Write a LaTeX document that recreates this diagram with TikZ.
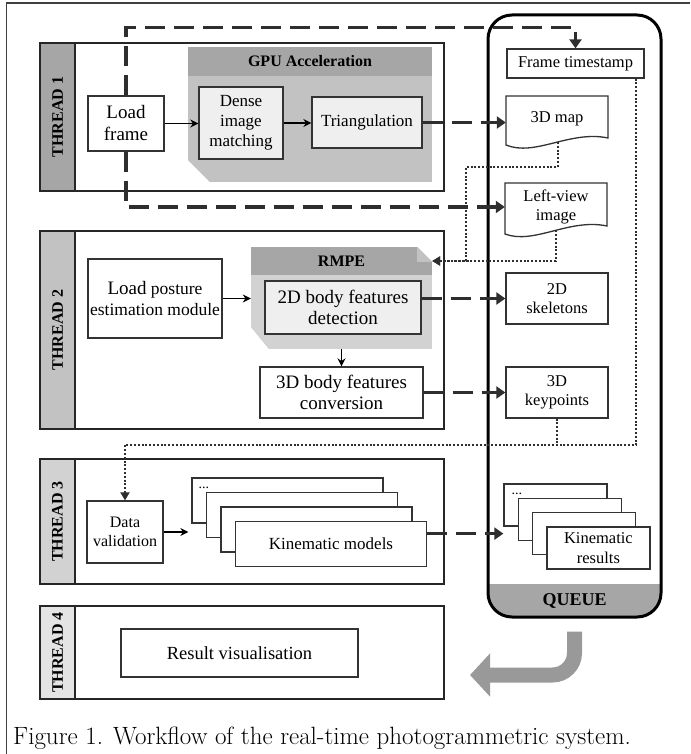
\documentclass[tikz,border=0pt]{standalone}
\usepackage{fontspec}
\newfontfamily\timesfont{Liberation Serif}
\usetikzlibrary{arrows.meta,positioning,calc}

\definecolor{headgray}{HTML}{A6A6A6}
\definecolor{gpugray}{HTML}{C2C2C2}
\definecolor{rmpegray}{HTML}{D2D2D2}
\definecolor{boxgray}{HTML}{EFEFEF}
\definecolor{stripone}{HTML}{A6A6A6}
\definecolor{striptwo}{HTML}{C2C2C2}
\definecolor{stripthree}{HTML}{D2D2D2}
\definecolor{stripfour}{HTML}{E4E4E4}
\definecolor{linkgray}{HTML}{2E2E2E}

\begin{document}
\begin{tikzpicture}[x=1pt,y=-1pt,font=\timesfont\fontsize{17}{20}\selectfont,
thread/.style={draw=black!85, line width=2pt},
threadlabel/.style={rotate=90, inner sep=0pt, font=\timesfont\bfseries\fontsize{16}{18}\selectfont},
taskbox/.style={draw=black!80, line width=1.3pt, fill=white, align=center, inner sep=2pt},
innerbox/.style={taskbox, fill=boxgray},
qbox/.style={taskbox, font=\timesfont\fontsize{16.5}{19.5}\selectfont},
qtext/.style={align=center, inner sep=2pt, font=\timesfont\fontsize{16.5}{19.5}\selectfont},
areabody/.style={fill=#1, inner sep=0pt},
areahead/.style={fill=headgray, inner sep=0pt, font=\timesfont\bfseries\fontsize{16}{18}\selectfont},
flow/.style={draw=black, line width=1.5pt, -{Stealth[length=8pt,width=8pt]}},
dataflow/.style={draw=linkgray, line width=3.2pt, dash pattern=on 20pt off 9pt, -{Triangle[length=9pt,width=12pt]}},
dotline/.style={draw=linkgray, line width=2.2pt, dash pattern=on 2pt off 1.8pt},
dottip/.style={-{Triangle[length=8pt,width=9pt]}},
backarrow/.style={draw=gray!80!white, line width=15pt, rounded corners=22pt, -{Triangle[length=20pt,width=42pt]}}]

\useasboundingbox (0,0) rectangle (690,754);
\draw[line width=1.3pt, black!75] (690,3) -- (6.5,3) -- (6.5,754);

% threads
\draw[thread] (40,43) rectangle (444,191);
\draw[thread, fill=stripone] (40,43) rectangle (75,191);
\node[threadlabel] (threadone) at (57.5,117) {THREAD 1};
\draw[thread] (40,231) rectangle (444,429);
\draw[thread, fill=striptwo] (40,231) rectangle (75,429);
\node[threadlabel] (threadtwo) at (57.5,330) {THREAD 2};
\draw[thread] (40,459) rectangle (444,584);
\draw[thread, fill=stripthree] (40,459) rectangle (75,584);
\node[threadlabel] (threadthree) at (57.5,521.5) {THREAD 3};
\draw[thread] (40,606) rectangle (444,699);
\draw[thread, fill=stripfour] (40,606) rectangle (75,699);
\node[threadlabel] (threadfour) at (57.5,652.5) {THREAD 4};

% queue
\fill[headgray, rounded corners=24pt] (488,584) -- (488,617) -- (661,617) -- (661,584);
\node[draw, line width=3pt, rounded corners=24pt, minimum width=173pt, minimum height=602pt, inner sep=0pt] (queue) at (574.5,316) {};
\node[font=\timesfont\bfseries\fontsize{18}{20}\selectfont] (queuelabel) at (574.5,600.5) {QUEUE};

% thread 1
\node[areabody=gpugray, minimum width=244pt, minimum height=135pt] (gpuarea) at (310,114.5) {};
\fill[white] (gpuarea.south west) -- ++(0,-22) -- ++(22,22) -- cycle;
\node[areahead, minimum width=244pt, minimum height=29pt] (gpuhead) at (310,61.5) {GPU Acceleration};
\node[taskbox, minimum width=76pt, minimum height=55pt, font=\timesfont\fontsize{19}{22}\selectfont] (loadframe) at (126,123.5) {Load\\frame};
\node[innerbox, minimum width=84pt, minimum height=72pt] (dense) at (241,123) {Dense\\image\\matching};
\node[innerbox, minimum width=110pt, minimum height=51pt] (triang) at (367,122.5) {Triangulation};

\node[qbox, minimum width=137pt, minimum height=29pt] (timestamp) at (575.5,63.5) {Frame timestamp};
\node[qtext, minimum width=102pt, minimum height=46pt] (map3d) at (557,119) {3D map};
\draw[taskbox, fill=none] (506,96) -- (608,96) -- (608,138) .. controls (570,130) and (535,157) .. coordinate[pos=.46] (mapwave) (506,145) -- cycle;
\node[qtext, minimum width=102pt, minimum height=48pt] (leftview) at (556,207) {Left-view\\image};
\draw[taskbox, fill=none] (505,183) -- (607,183) -- (607,226) .. controls (569,218) and (534,245) .. coordinate[pos=.47] (leftwave) (505,234) -- cycle;

% thread 2
\node[taskbox, minimum width=134pt, minimum height=79pt, font=\timesfont\fontsize{17.5}{21}\selectfont] (loadpost) at (155,298.5) {{\fontsize{19}{21}\selectfont Load} posture\\estimation module};
\node[areabody=rmpegray, minimum width=181pt, minimum height=102pt] (rmpearea) at (341.5,298) {};
\fill[white] (rmpearea.south west) -- ++(0,-22) -- ++(18,22) -- cycle;
\node[areahead, minimum width=181pt, minimum height=28pt] (rmpehead) at (341.5,261) {RMPE};
\fill[white] (rmpehead.north east) -- ++(-15,0) -- ++(15,15) -- cycle;
\fill[gpugray] (rmpehead.north east) ++(-15,0) -- ++(0,15) -- ++(15,0) -- cycle;
\node[innerbox, minimum width=156pt, minimum height=53pt, font=\timesfont\fontsize{19}{21}\selectfont] (det2d) at (343,307.5) {2D body features\\detection};
\node[taskbox, minimum width=163pt, minimum height=51pt, font=\timesfont\fontsize{19}{21}\selectfont] (conv3d) at (341.5,392.5) {3D body features\\conversion};

\node[qbox, minimum width=102pt, minimum height=51pt] (skel2d) at (557,298.5) {2D\\skeletons};
\node[qbox, minimum width=102pt, minimum height=51pt] (keyp3d) at (557,392.5) {3D\\keypoints};

% thread 3
\node[taskbox, minimum width=76pt, minimum height=62pt, font=\timesfont\fontsize{16}{19}\selectfont] (datavalid) at (125,532) {Data\\validation};
\node[taskbox, minimum width=191pt, minimum height=45pt] (kinmod1) at (287.5,500.5) {};
\node[anchor=base west, inner sep=0pt, font=\timesfont\fontsize{14}{14}\selectfont] (kinmoddots) at ([xshift=7pt,yshift=-11pt]kinmod1.north west) {...};
\node[taskbox, minimum width=191pt, minimum height=45pt] (kinmod2) at (302,515) {};
\node[taskbox, minimum width=191pt, minimum height=45pt] (kinmod3) at (316.5,529.5) {};
\node[taskbox, minimum width=191pt, minimum height=45pt] (kinmod4) at (331,544) {Kinematic models};

\node[qbox, minimum width=103pt, minimum height=42pt] (kinres1) at (555.5,505) {};
\node[anchor=base west, inner sep=0pt, font=\timesfont\fontsize{14}{14}\selectfont] (kinresdots) at ([xshift=8pt,yshift=-11pt]kinres1.north west) {...};
\node[qbox, minimum width=103pt, minimum height=42pt] (kinres2) at (569.8,519.3) {};
\node[qbox, minimum width=103pt, minimum height=42pt] (kinres3) at (584.1,533.6) {};
\node[qbox, minimum width=103pt, minimum height=42pt] (kinres4) at (598.4,547.9) {Kinematic\\results};

% thread 4
\node[taskbox, minimum width=237pt, minimum height=48pt, font=\timesfont\fontsize{18.5}{21}\selectfont] (resultvis) at (239.5,653) {Result visualisation};

% connectors
\draw[flow] (loadframe.east) -- (loadframe.east -| dense.west);
\draw[flow] (dense.east) -- (dense.east -| triang.west);
\draw[flow] (loadpost.east) -- (loadpost.east -| rmpearea.west);
\draw[flow] (rmpearea.south -| conv3d.north) -- (conv3d.north);
\draw[flow, shorten >=3pt] (datavalid.east) -- (datavalid.east -| kinmod1.west);

\draw[dataflow] (loadframe.north) -- ++(0,-68) -| (timestamp.north);
\draw[dataflow] (loadframe.south) |- (leftview.west);
\draw[dataflow] (triang.east) -- (triang.east -| map3d.west);
\draw[dataflow] (skel2d.west -| det2d.east) -- (skel2d.west);
\draw[dataflow] (conv3d.east) -- (keyp3d.west);
\draw[dataflow] (kinres3.west -| kinmod4.east) -- (kinres3.west -| kinres1.west);

\coordinate (mapbend) at (466,167);
\coordinate (dotrow) at (636,445);
\draw[dotline, dottip] (mapwave) |- (mapbend) |- (rmpehead.east);
\draw[dotline, dottip] (leftwave) |- (rmpehead.east);
\draw[dotline, dottip] (timestamp.south -| dotrow) -- (dotrow) -| (datavalid.north);
\draw[dotline] (keyp3d.south) -- (keyp3d.south |- dotrow);

\coordinate (backtip) at (470,675);
\draw[backarrow] ([yshift=-13pt]queue.south) |- (backtip);

\node[anchor=base west, inner sep=0pt, font=\normalfont\fontsize{25}{29}\selectfont] (caption) at (13,744) {Figure 1. Workflow of the real-time photogrammetric system.};
%
\end{tikzpicture}
\end{document}
